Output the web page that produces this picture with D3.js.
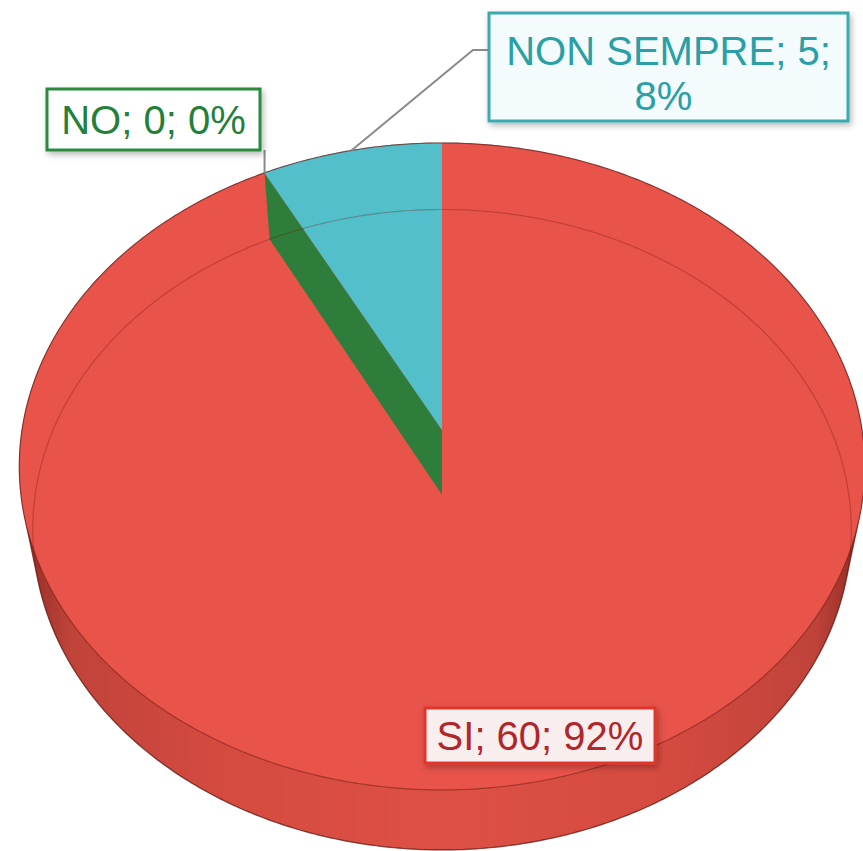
<!DOCTYPE html>
<html>
<head>
<meta charset="utf-8">
<script src="https://cdn.jsdelivr.net/npm/d3@7"></script>
<style>
  body { margin: 0; background: #fff; }
  svg { display: block; }
  text { font-family: "Liberation Sans", Arial, sans-serif; }
</style>
</head>
<body>
<div id="chart"></div>
<script>
// data
var categories = ["SI", "NO", "NON SEMPRE"];
var counts = [60, 0, 5];

// styles per slice
var topColors = ["#e8534a", "#2f7d3b", "#53bfcb"];
var textColors = ["#b0262a", "#22803a", "#2a9fa6"];
var boxStroke = ["#e0362c", "#2a8a3e", "#3aaab0"];
var boxFill = ["#f9eeee", "#ffffff", "#f3fbfc"];

var svgWidth = 863, svgHeight = 851;
var svg = d3.select("#chart").append("svg")
  .attr("width", svgWidth)
  .attr("height", svgHeight);

// 3d view of the pie (radius 1, thickness T)
var cx = 442, cy = 430, f = 2419, D = 5.76, T = 0.245;
var phi = 49.5 * Math.PI / 180;
function project(theta, r, y) {
  var X = r * Math.sin(theta), Z = r * Math.cos(theta);
  var yv = y * Math.cos(phi) + Z * Math.sin(phi);
  var zv = D + Z * Math.cos(phi) - y * Math.sin(phi);
  return [cx + f * X / zv, cy - f * yv / zv];
}
function rim(a0, a1, y) {
  var n = Math.max(2, Math.ceil(Math.abs(a1 - a0) / 0.01));
  return d3.range(n + 1).map(i => project(a0 + (a1 - a0) * i / n, 1, y));
}

var total = d3.sum(counts);
var pct = d3.format(".0%");
var pie = d3.pie().sort(null).value(d => d.value);
var arcs = pie(categories.map((c, i) => ({name: c, value: counts[i], i: i})));

var line = d3.line();
var defs = svg.append("defs");

var grad = defs.append("linearGradient").attr("id", "wall")
  .attr("x1", "0%").attr("x2", "100%").attr("y1", "0%").attr("y2", "0%");
[[0, "#8e2a22"], [0.06, "#c0433a"], [0.25, "#d64b40"], [0.5, "#dc5045"], [0.75, "#d64b40"], [0.94, "#c0433a"], [1, "#8e2a22"]]
  .forEach(s => grad.append("stop").attr("offset", s[0]).attr("stop-color", s[1]));

var shadow = defs.append("filter").attr("id", "shadow")
  .attr("x", "-20%").attr("y", "-30%").attr("width", "140%").attr("height", "170%");
shadow.append("feDropShadow").attr("dx", 2).attr("dy", 3)
  .attr("stdDeviation", 3).attr("flood-color", "#000").attr("flood-opacity", 0.28);

var g = svg.append("g");

// side wall
var allRim = rim(0, 2 * Math.PI, 0).concat(rim(0, 2 * Math.PI, -T));
var hull = d3.polygonHull(allRim);
g.append("path")
  .attr("d", line(hull) + "Z")
  .attr("fill", "url(#wall)")
  .attr("stroke", "rgba(60,5,0,0.55)")
  .attr("stroke-width", 1.2);

// top faces (big slice first)
function topFace(a) {
  var pts = [project(0, 0, 0)].concat(rim(a.startAngle, a.endAngle, 0));
  return line(pts) + "Z";
}
g.append("path").attr("d", topFace(arcs[0])).attr("fill", topColors[0]);

// radial walls of the zero slice show through
arcs.filter(a => a.value === 0).forEach(function(a) {
  var pts = [project(0, 0, 0), project(a.startAngle, 1, 0), project(a.startAngle, 1, -T), project(0, 0, -T)];
  g.append("path").attr("d", line(pts) + "Z").attr("fill", topColors[a.data.i]);
});

arcs.filter(a => a.index > 0 && a.value > 0).forEach(function(a) {
  g.append("path").attr("d", topFace(a)).attr("fill", topColors[a.data.i]);
});

// faint bottom edge seen through the top
g.append("path")
  .attr("d", line(rim(0, 2 * Math.PI, -T)) + "Z")
  .attr("fill", "none")
  .attr("stroke", "rgba(110,20,10,0.3)")
  .attr("stroke-width", 1.2);

// top rim edge
g.append("path")
  .attr("d", line(rim(0, 2 * Math.PI, 0)) + "Z")
  .attr("fill", "none")
  .attr("stroke", "rgba(90,20,10,0.45)")
  .attr("stroke-width", 1.2);

// data labels
var labelBoxes = [
  {x: 425, y: 708, w: 230, h: 55, lines: 1},
  {x: 47, y: 89, w: 213, h: 61, lines: 1},
  {x: 489, y: 13, w: 359, h: 108, lines: 2}
];

function labelText(a) {
  return a.data.name + "; " + a.data.value + "; " + pct(a.data.value / total);
}

// leader lines
var midTeal = (arcs[2].startAngle + arcs[2].endAngle) / 2;
var pTeal = project(midTeal, 1, 0);
g.append("path")
  .attr("d", line([pTeal, [473, 50], [489, 50]]))
  .attr("fill", "none").attr("stroke", "#8a8a8a").attr("stroke-width", 2);
var pNo = project(arcs[1].startAngle, 1, 0);
g.append("path")
  .attr("d", line([[pNo[0], 150], pNo]))
  .attr("fill", "none").attr("stroke", "#8a8a8a").attr("stroke-width", 2);

arcs.forEach(function(a, i) {
  var b = labelBoxes[i];
  var lg = g.append("g");
  lg.append("rect")
    .attr("x", b.x).attr("y", b.y).attr("width", b.w).attr("height", b.h)
    .attr("fill", boxFill[i])
    .attr("stroke", boxStroke[i])
    .attr("stroke-width", 3)
    .attr("filter", "url(#shadow)");
  var t = lg.append("text")
    .attr("text-anchor", "middle")
    .attr("font-size", "40px")
    .attr("fill", textColors[i]);
  if (b.lines === 2) {
    var s = labelText(a);
    var cut = s.lastIndexOf("; ") + 1;
    t.append("tspan").attr("x", b.x + b.w / 2).attr("y", b.y + 52).text(s.slice(0, cut));
    t.append("tspan").attr("x", b.x + b.w / 2 - 5).attr("y", b.y + 97).text(s.slice(cut + 1));
  } else {
    t.attr("x", b.x + b.w / 2).attr("y", b.y + b.h / 2 + 14).text(labelText(a));
  }
});
</script>
</body>
</html>
